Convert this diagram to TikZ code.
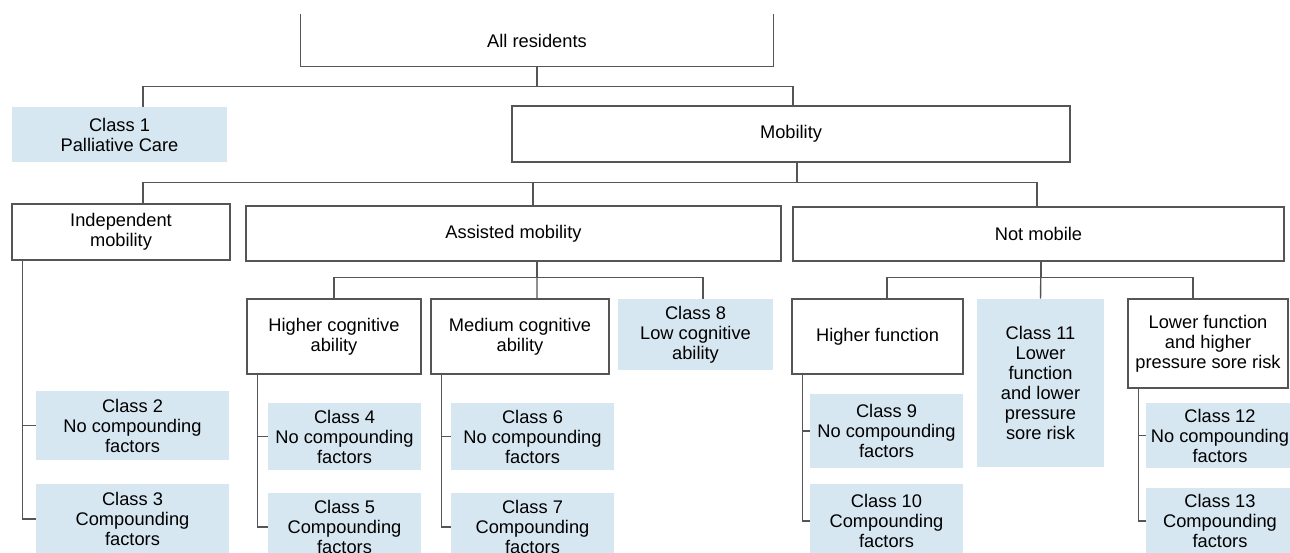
\documentclass[tikz,border=0pt]{standalone}
\usepackage{fontspec}
\setmainfont{Liberation Sans}
\usetikzlibrary{positioning,calc}
\definecolor{classcolor}{RGB}{215,231,241}
\definecolor{linecolor}{RGB}{85,85,85}

\begin{document}
\begin{tikzpicture}[
    x=0.02cm, y=-0.02cm,
    group/.style={rectangle, draw=linecolor, line width=0.8pt, fill=white, align=center, inner sep=2pt, font=\fontsize{10.4}{11.4}\selectfont},
    leaf/.style={rectangle, fill=classcolor, align=center, inner sep=2pt, font=\fontsize{10.4}{11.4}\selectfont},
    link/.style={draw=linecolor, line width=0.8pt},
]
    \useasboundingbox (0,0) rectangle (1290,552);
    \clip (0,0) rectangle (1290,552);

    % Top level
    \node[group, draw=none, fill=none, minimum width=9.44cm, minimum height=1.02cm] (allres) at (537,40.5) {All residents};
    \draw[link] (allres.north west) -- (allres.south west) -- (allres.south east) -- (allres.north east);

    \node[leaf, minimum width=4.30cm, minimum height=1.10cm] (class1) at (119.5,134.5) {Class 1\\Palliative Care};
    \node[group, minimum width=11.16cm, minimum height=1.12cm] (mobility) at (791,134) {Mobility};

    \draw[link] (allres.south) -- ++(0,20) -| ($(class1.north)+(23.5,0)$);
    \draw[link] (allres.south) -- ++(0,20) -| ($(mobility.north)+(2,0)$);

    % Mobility groups
    \node[group, minimum width=4.36cm, minimum height=1.12cm] (indep) at (121,232) {Independent\\mobility};
    \node[group, minimum width=10.70cm, minimum height=1.10cm] (assisted) at (513.5,233.5) {Assisted mobility};
    \node[group, minimum width=9.82cm, minimum height=1.08cm] (notmob) at (1038.5,234) {Not mobile};

    \draw[link] ($(mobility.south)+(6,0)$) -- ++(0,20) -| ($(indep.north)+(22,0)$);
    \draw[link] ($(mobility.south)+(6,0)$) -- ++(0,20) -| ($(assisted.north)+(19.5,0)$);
    \draw[link] ($(mobility.south)+(6,0)$) -- ++(0,20) -| ($(notmob.north)+(-1.5,0)$);

    % Assisted mobility
    \node[group, minimum width=3.48cm, minimum height=1.50cm] (hicog) at (334,336.5) {Higher cognitive\\ability};
    \node[group, minimum width=3.56cm, minimum height=1.50cm] (medcog) at (520,336.5) {Medium cognitive\\ability};
    \node[leaf, minimum width=3.10cm, minimum height=1.42cm] (class8) at (695.5,334.5) {Class 8\\Low cognitive\\ability};

    \draw[link] ($(assisted.south)+(23.5,0)$) -- ++(0,16) -| (hicog.north);
    \draw[link] ($(assisted.south)+(23.5,0)$) -- ($(medcog.north)+(17,0)$);
    \draw[link] ($(assisted.south)+(23.5,0)$) -- ++(0,16) -| ($(class8.north)+(7.5,0)$);

    % Not mobile
    \node[group, minimum width=3.42cm, minimum height=1.50cm] (hifunc) at (877.5,336.5) {Higher function};
    \node[leaf, minimum width=2.54cm, minimum height=3.36cm] (class11) at (1040.5,383) {Class 11\\Lower\\function\\and lower\\pressure\\sore risk};
    \node[group, minimum width=3.20cm, minimum height=1.78cm] (lofunc) at (1208,343.5) {Lower function\\and higher\\pressure sore risk};

    \draw[link] ($(notmob.south)+(2.5,0)$) -- ++(0,16) -| ($(hifunc.north)+(9.5,0)$);
    \draw[link] ($(notmob.south)+(2.5,0)$) -- (class11.north);
    \draw[link] ($(notmob.south)+(2.5,0)$) -- ++(0,16) -| ($(lofunc.north)+(-15,0)$);

    % Classes
    \node[leaf, minimum width=3.86cm, minimum height=1.38cm] (class2) at (132.5,425.5) {Class 2\\No compounding\\factors};
    \node[leaf, minimum width=3.86cm, minimum height=1.40cm] (class3) at (132.5,519) {Class 3\\Compounding\\factors};
    \node[leaf, minimum width=3.06cm, minimum height=1.34cm] (class4) at (344.5,436.5) {Class 4\\No compounding\\factors};
    \node[leaf, minimum width=3.06cm, minimum height=1.36cm] (class5) at (344.5,527) {Class 5\\Compounding\\factors};
    \node[leaf, minimum width=3.26cm, minimum height=1.34cm] (class6) at (532.5,436.5) {Class 6\\No compounding\\factors};
    \node[leaf, minimum width=3.26cm, minimum height=1.36cm] (class7) at (532.5,527) {Class 7\\Compounding\\factors};
    \node[leaf, minimum width=3.06cm, minimum height=1.48cm] (class9) at (886.5,431) {Class 9\\No compounding\\factors};
    \node[leaf, minimum width=3.06cm, minimum height=1.48cm] (class10) at (886.5,521) {Class 10\\Compounding\\factors};
    \node[leaf, minimum width=2.96cm, minimum height=1.30cm] (class12) at (1220,435.5) {Class 12\\No compounding\\factors};
    \node[leaf, minimum width=2.96cm, minimum height=1.32cm] (class13) at (1220,521) {Class 13\\Compounding\\factors};

    \foreach \p/\c in {indep/class2, indep/class3, hicog/class4, hicog/class5, medcog/class6, medcog/class7, hifunc/class9, hifunc/class10, lofunc/class12, lofunc/class13} {
        \draw[link] ($(\p.south west)+(11,0)$) |- (\c.west);
    }

\end{tikzpicture}
\end{document}
